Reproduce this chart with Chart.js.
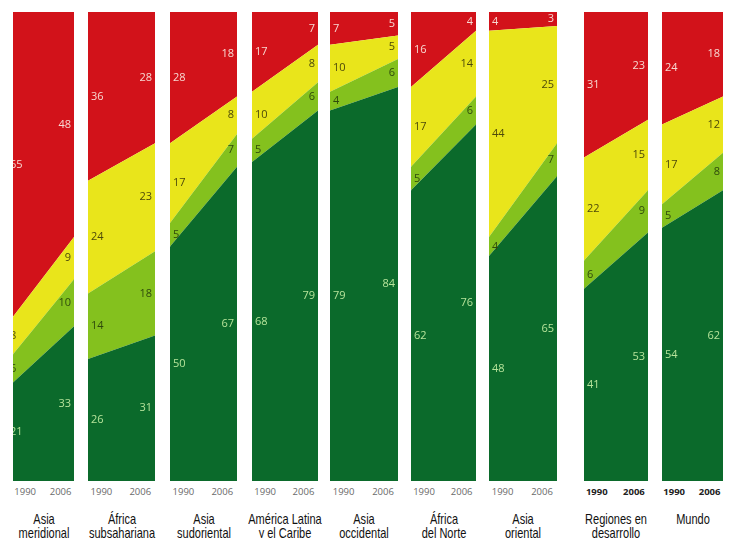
<!DOCTYPE html>
<html>
<head>
<meta charset="utf-8">
<script src="https://cdn.jsdelivr.net/npm/chart.js@4"></script>
<style>
  body { margin: 0; background: #fff; width: 729px; height: 538px; position: relative; overflow: hidden; }
  .panel { position: absolute; top: 12px; }
  .year { position: absolute; top: 485px; font: 9.5px "Open Sans", sans-serif; color: #6a6a6a; transform: translateX(-50%); }
  .year.bold { font-weight: bold; color: #222; }
  .name { position: absolute; top: 512px; font: 14.5px "Liberation Sans", Arial, sans-serif;
          color: #111; text-align: center; line-height: 14px; transform: translateX(-50%) scaleX(0.76); white-space: nowrap; }
</style>
</head>
<body>
<script>
// datos
const regions = ['Asia\nmeridional', 'África\nsubsahariana', 'Asia\nsudoriental', 'América Latina\ny el Caribe',
  'Asia\noccidental', 'África\ndel Norte', 'Asia\noriental', 'Regiones en\ndesarrollo', 'Mundo'];
const years = ['1990', '2006'];
// [1990, 2006] por region
const darkGreen  = [[21, 33], [26, 31], [50, 67], [68, 79], [79, 84], [62, 76], [48, 65], [41, 53], [54, 62]];
const lightGreen = [[6, 10], [14, 18], [5, 7], [5, 6], [4, 6], [5, 6], [4, 7], [6, 9], [5, 8]];
const yellow     = [[8, 9], [24, 23], [17, 8], [10, 8], [10, 5], [17, 14], [44, 25], [22, 15], [17, 12]];
const red        = [[65, 48], [36, 28], [28, 18], [17, 7], [7, 5], [16, 4], [4, 3], [31, 23], [24, 18]];

// posicion de los paneles (left, right)
const panelX = [[13, 74], [88, 155], [170, 237], [252, 318], [330, 398], [411, 476], [489, 557], [584, 648], [662, 723]];
const panelH = 469;

const fills = ['#0b6a2b', '#84c11e', '#e9e51b', '#d2121a'];
const labelColors = ['#b6e39a', '#2f4a0c', '#4e4a0a', '#f7d9d2'];

const labelPlugin = {
  id: 'bandLabels',
  afterDatasetsDraw(chart, args, opts) {
    const ctx = chart.ctx;
    const area = chart.chartArea;
    const y = chart.scales.y;
    ctx.save();
    ctx.font = '11px "Open Sans", sans-serif';
    ctx.textBaseline = 'middle';
    for (let j = 0; j < 2; j++) {
      let base = 0;
      chart.data.datasets.forEach((ds, i) => {
        const v = ds.data[j];
        const mid = y.getPixelForValue(base + v / 2);
        base += v;
        ctx.fillStyle = labelColors[i];
        if (j === 0) {
          ctx.textAlign = 'left';
          ctx.fillText(v, area.left + (opts.shiftLeft || 3), mid);
        } else {
          ctx.textAlign = 'right';
          ctx.fillText(v, area.right - 3, mid);
        }
      });
    }
    ctx.restore();
  }
};

regions.forEach((name, k) => {
  const [l, r] = panelX[k];
  const w = r - l;
  const div = document.createElement('div');
  div.className = 'panel';
  div.style.left = l + 'px';
  div.style.width = w + 'px';
  div.style.height = panelH + 'px';
  const canvas = document.createElement('canvas');
  canvas.width = w;
  canvas.height = panelH;
  div.appendChild(canvas);
  document.body.appendChild(div);

  const series = [darkGreen[k], lightGreen[k], yellow[k], red[k]];
  new Chart(canvas.getContext('2d'), {
    type: 'line',
    data: {
      labels: years,
      datasets: series.map((vals, i) => ({
        data: vals,
        backgroundColor: fills[i],
        borderWidth: 0,
        pointRadius: 0,
        tension: 0,
        fill: i === 0 ? 'origin' : '-1'
      }))
    },
    options: {
      responsive: false,
      animation: false,
      devicePixelRatio: 1,
      layout: { padding: 0 },
      plugins: {
        legend: { display: false },
        tooltip: { enabled: false },
        bandLabels: { shiftLeft: k === 0 ? -3 : 3 }
      },
      scales: {
        x: { display: false, offset: false },
        y: { display: false, stacked: true, min: 0, max: 100 }
      }
    },
    plugins: [labelPlugin]
  });

  // etiquetas de años
  years.forEach((yr, j) => {
    const s = document.createElement('div');
    s.className = 'year' + (k >= 7 ? ' bold' : '');
    s.textContent = yr;
    s.style.left = (l + (j === 0 ? 0.2 : 0.78) * w) + 'px';
    document.body.appendChild(s);
  });

  const n = document.createElement('div');
  n.className = 'name';
  n.innerText = name;
  n.style.left = (l + w / 2) + 'px';
  document.body.appendChild(n);
});
</script>
</body>
</html>
